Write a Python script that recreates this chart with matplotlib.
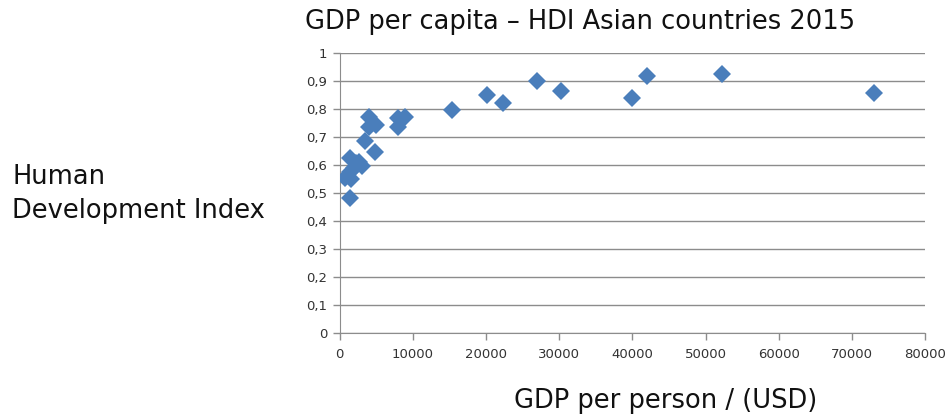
import matplotlib.pyplot as plt
from matplotlib.ticker import FuncFormatter

# GDP per capita (USD) and HDI, Asian countries 2015
gdp = [73000, 52300, 42000, 40000, 30200, 26900, 22300, 20150, 15300,
       9000, 8000, 8000, 5000, 4000, 4000, 3400, 4800,
       1400, 2300, 3000, 1400, 700, 1600, 1400, 2000, 2700]
hdi = [0.856, 0.925, 0.918, 0.838, 0.864, 0.901, 0.822, 0.849, 0.796,
       0.770, 0.767, 0.735, 0.743, 0.770, 0.735, 0.686, 0.648,
       0.624, 0.606, 0.596, 0.576, 0.552, 0.549, 0.481, 0.590, 0.610]

X_TICKS = list(range(0, 80001, 10000))
Y_TICKS = [i / 10 for i in range(11)]

plt.rcParams["font.family"] = ["DejaVu Sans"]

fig = plt.figure(figsize=(9.46, 4.2), dpi=100)
ax = fig.add_axes([0.359, 0.207, 0.619, 0.667])

ax.plot(gdp, hdi, linestyle="none", marker="D", markersize=9,
        color="#4a7ebb", markeredgewidth=0, zorder=3)

ax.set_xlim(0, 80000)
ax.set_ylim(0, 1)
ax.set_xticks(X_TICKS)
ax.set_yticks(Y_TICKS)
ax.yaxis.set_major_formatter(FuncFormatter(lambda v, p: f"{v:g}".replace(".", ",")))

ax.grid(axis="y", color="#8c8c8c", linewidth=1)
ax.set_axisbelow(True)
for side in ("top", "right"):
    ax.spines[side].set_visible(False)
for side in ("left", "bottom"):
    ax.spines[side].set_color("#8c8c8c")
ax.tick_params(axis="both", colors="#8c8c8c", labelcolor="#333333",
               labelsize=9.5, length=5, width=1)
ax.tick_params(axis="x", pad=6)
ax.tick_params(axis="y", pad=4)

big = dict(fontsize=18.5, color="#111111")
fig.text(0.613, 0.947, "GDP per capita \u2013 HDI Asian countries 2015",
         ha="center", va="center", **big)
fig.text(0.013, 0.538, "Human\nDevelopment Index", ha="left", va="center",
         linespacing=1.4, **big)
fig.text(0.704, 0.045, "GDP per person / (USD)", ha="center", va="center", **big)

fig.savefig("out.png", dpi=100)
